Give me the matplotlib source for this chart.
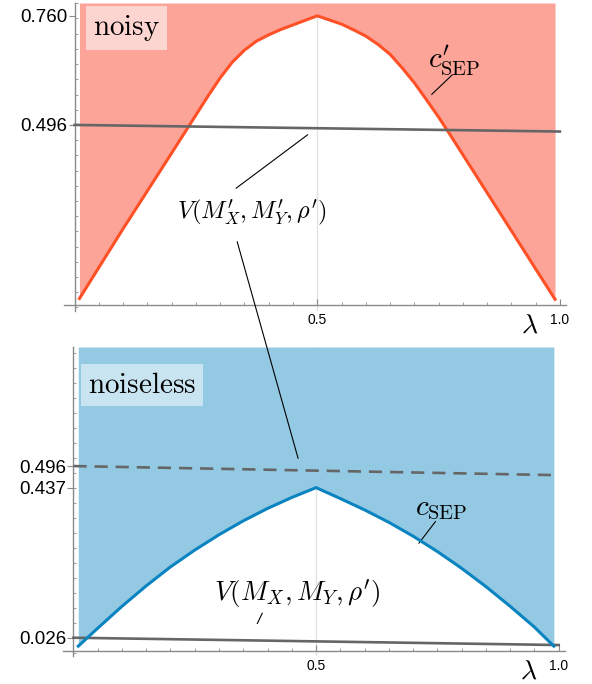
import numpy as np
import matplotlib
import matplotlib.pyplot as plt
from matplotlib.patches import ConnectionPatch
from matplotlib.ticker import FixedLocator, MultipleLocator

matplotlib.use('Agg')
plt.rcParams['mathtext.fontset'] = 'cm'
plt.rcParams['font.family'] = ['Liberation Sans', 'DejaVu Sans']

# noisy panel: c'_SEP curve over lambda
lam_noisy = [0.01, 0.1, 0.2, 0.25, 0.275, 0.3, 0.325, 0.35, 0.375, 0.4, 0.425, 0.45, 0.475, 0.5,
             0.525, 0.55, 0.575, 0.6, 0.625, 0.65, 0.675, 0.7, 0.725, 0.75, 0.775, 0.8, 0.9, 0.99]
c_sep_noisy = [0.076, 0.245, 0.428, 0.520, 0.566, 0.610, 0.648, 0.677, 0.699, 0.714, 0.727, 0.738, 0.749, 0.760,
               0.750, 0.740, 0.726, 0.711, 0.691, 0.667, 0.634, 0.598, 0.557, 0.515, 0.470, 0.424, 0.240, 0.074]
v_noisy_x = [0.0, 1.0]
v_noisy = [0.496, 0.480]

# noiseless panel: c_SEP curve over lambda
lam_clean = [0.01, 0.05, 0.1, 0.15, 0.2, 0.25, 0.3, 0.35, 0.4, 0.45, 0.5,
             0.55, 0.6, 0.65, 0.7, 0.75, 0.8, 0.85, 0.9, 0.95, 0.99]
c_sep_clean = [0.003, 0.052, 0.112, 0.168, 0.220, 0.266, 0.308, 0.346, 0.380, 0.410, 0.437,
               0.407, 0.376, 0.342, 0.304, 0.262, 0.216, 0.166, 0.112, 0.055, 0.003]
v_clean_x = [0.0, 1.0]
v_clean = [0.026, 0.006]
v_noisy_ref = [0.496, 0.471]

noisy_yticks = [0.496, 0.760]
clean_yticks = [0.026, 0.437, 0.496]

RED_FILL, RED_LINE = '#fca498', '#ff5026'
BLUE_FILL, BLUE_LINE = '#94c9e4', '#0a84c0'
GRAY = '#666666'
AXIS = '#8a8a8a'

fig = plt.figure(figsize=(5.92, 6.84), dpi=100)
ax1 = fig.add_axes([0.108, 0.5453, 0.8476, 0.4503])
ax2 = fig.add_axes([0.106, 0.0409, 0.8476, 0.4518])


def style_axes(ax, ylim, xaxis_y, yticks, minor_step):
    ax.set_xlim(-0.022, 1.012)
    ax.set_ylim(*ylim)
    for s in ['top', 'right']:
        ax.spines[s].set_visible(False)
    ax.spines['left'].set_position(('data', 0))
    ax.spines['bottom'].set_position(('data', xaxis_y))
    for s in ['left', 'bottom']:
        ax.spines[s].set_color(AXIS)
        ax.spines[s].set_linewidth(1)
    ax.set_xticks([0.5, 1.0])
    ax.set_xticklabels(['0.5', '1.0'], fontsize=10)
    ax.xaxis.set_minor_locator(MultipleLocator(0.05))
    ax.tick_params(axis='x', which='major', direction='in', length=4.5, color=AXIS, pad=6)
    ax.tick_params(axis='x', which='minor', direction='in', length=2.2, color=AXIS)
    ax.set_yticks(yticks)
    ax.set_yticklabels([f'{v:.3f}' for v in yticks], fontsize=13.5)
    base = yticks[0]
    ax.yaxis.set_minor_locator(FixedLocator(base + minor_step * np.arange(-30, 40)))
    ax.tick_params(axis='y', which='major', direction='out', length=4, color=AXIS, pad=1)
    ax.tick_params(axis='y', which='minor', direction='in', length=2.2, color=AXIS)
    ax.axvline(0.5, color='#e2e2e2', lw=1, zorder=0)
    ax.annotate(r'$\lambda$', xy=(0.938, xaxis_y), xycoords='data', xytext=(0, -15),
                textcoords='offset points', ha='center', va='center', fontsize=20)


# top: noisy
top1 = 0.791
style_axes(ax1, (0.0457, top1), 0.0602, noisy_yticks, 0.0368)
ax1.fill_between(lam_noisy, c_sep_noisy, top1, color=RED_FILL, lw=0, zorder=1)
ax1.plot(lam_noisy, c_sep_noisy, color=RED_LINE, lw=2.2, zorder=3)
ax1.plot(v_noisy_x, v_noisy, color=GRAY, lw=1.9, zorder=4)
ax1.text(0.1248, 0.919, r'$\mathrm{noisy}$', transform=ax1.transAxes, fontsize=21,
         ha='center', va='center',
         bbox=dict(boxstyle='square,pad=0.25', facecolor='white', alpha=0.55, edgecolor='none'))
ax1.text(0.782, 0.653, r"$c^{\prime}_{\mathrm{SEP}}$", fontsize=21, ha='center', va='center')
ax1.plot([0.778, 0.736], [0.617, 0.570], color='black', lw=0.8)
ax1.text(0.366, 0.285, r"$V(M^{\prime}_X, M^{\prime}_Y, \rho^{\prime})$", fontsize=17.5,
         ha='center', va='center')
ax1.plot([0.480, 0.333], [0.472, 0.343], color='black', lw=0.8)

# bottom: noiseless
top2 = 0.822
style_axes(ax2, (-0.0241, top2), -0.0104, clean_yticks, 0.041)
ax2.fill_between(lam_clean, c_sep_clean, top2, color=BLUE_FILL, lw=0, zorder=1)
ax2.plot(v_clean_x, v_clean, color=GRAY, lw=1.9, zorder=3)
ax2.plot(v_clean_x, v_noisy_ref, color=GRAY, lw=1.9, ls=(0, (5, 3)), zorder=3)
ax2.plot(lam_clean, c_sep_clean, color=BLUE_LINE, lw=2.2, zorder=4)
ax2.text(0.158, 0.877, r'$\mathrm{noiseless}$', transform=ax2.transAxes, fontsize=21,
         ha='center', va='center',
         bbox=dict(boxstyle='square,pad=0.25', facecolor='white', alpha=0.5, edgecolor='none'))
ax2.text(0.758, 0.381, r"$c_{\mathrm{SEP}}$", fontsize=21, ha='center', va='center')
ax2.plot([0.746, 0.712], [0.344, 0.285], color='black', lw=0.8)
ax2.text(0.460, 0.146, r"$V(M_X, M_Y, \rho^{\prime})$", fontsize=19.5, ha='center', va='center')
ax2.plot([0.389, 0.379], [0.093, 0.065], color='black', lw=0.8)

# long leader from the noisy label down to the dashed reference line
con = ConnectionPatch(xyA=(0.335, 0.2135), coordsA=ax1.transData,
                      xyB=(0.463, 0.517), coordsB=ax2.transData, color='black', lw=0.8)
fig.add_artist(con)

fig.savefig('out.png', dpi=100)
